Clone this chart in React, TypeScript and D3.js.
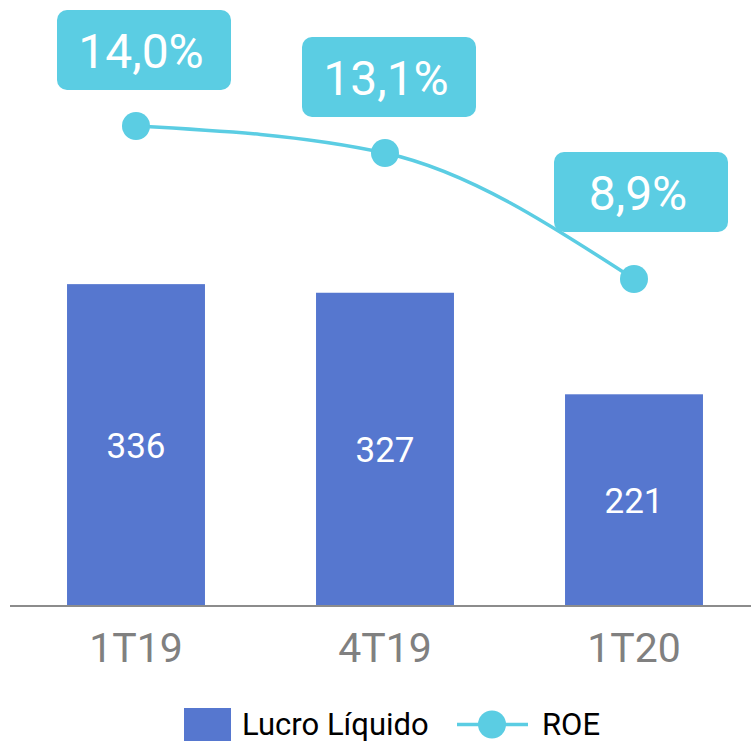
import React from "react";
import * as d3 from "d3";

const categories = ["1T19", "4T19", "1T20"];
const lucroLiquido = [336, 327, 221];
const roe = [14.0, 13.1, 8.9];
const roeLabels = ["14,0%", "13,1%", "8,9%"];
const seriesNames = ["Lucro Líquido", "ROE"];

const W = 751;
const H = 744;
const BAR = "#5677CF";
const CYAN = "#5BCDE3";
const FONT = "Roboto, 'Noto Sans', sans-serif";

// label box offsets relative to the point (style)
const labelOffsets = [
  { dx: 8, dy: -36 },
  { dx: 4, dy: -36 },
  { dx: 7, dy: -47 },
];

export default function App() {
  const x = d3
    .scaleBand<string>()
    .domain(categories)
    .range([11.5, 758.5])
    .paddingInner(0.446)
    .paddingOuter(0.223);
  const yBar = d3.scaleLinear().domain([0, 632.6]).range([606, 0]);
  const yRoe = d3.scaleLinear().domain([0, 18.2]).range([546, 0]);

  const pts: [number, number][] = categories.map((c, i) => [
    (x(c) as number) + x.bandwidth() / 2,
    yRoe(roe[i]),
  ]);
  const line = d3.line().curve(d3.curveMonotoneX)(pts) as string;

  const boxW = 174;
  const boxH = 80;

  return (
    <div style={{ position: "absolute", left: 0, top: 0 }}>
      <svg width={W} height={H} style={{ display: "block", fontFamily: FONT }}>
        <rect width={W} height={H} fill="#fff" />
        {categories.map((c, i) => {
          const x0 = x(c) as number;
          const y0 = yBar(lucroLiquido[i]);
          return (
            <g key={c}>
              <rect x={x0} y={y0} width={x.bandwidth()} height={yBar(0) - y0} fill={BAR} />
              <text
                x={x0 + x.bandwidth() / 2}
                y={(y0 + yBar(0)) / 2 + 12.5}
                textAnchor="middle"
                fill="#fff"
                fontSize={35}
              >
                {lucroLiquido[i]}
              </text>
              <text
                x={x0 + x.bandwidth() / 2}
                y={662}
                textAnchor="middle"
                fill="#808080"
                fontSize={41}
              >
                {c}
              </text>
            </g>
          );
        })}
        <line x1={10} x2={W} y1={yBar(0)} y2={yBar(0)} stroke="#8c8c8c" strokeWidth={2} />
        <path d={line} fill="none" stroke={CYAN} strokeWidth={3.5} />
        {pts.map((p, i) => (
          <circle key={i} cx={p[0]} cy={p[1]} r={14} fill={CYAN} />
        ))}
        {pts.map((p, i) => {
          const cx = p[0] + labelOffsets[i].dx;
          const bottom = p[1] + labelOffsets[i].dy;
          return (
            <g key={"l" + i}>
              <rect x={cx - boxW / 2} y={bottom - boxH} width={boxW} height={boxH} rx={10} fill={CYAN} />
              <text x={cx - 3} y={bottom - boxH + 58} textAnchor="middle" fill="#fff" fontSize={48}>
                {roeLabels[i]}
              </text>
            </g>
          );
        })}
        {/* legend */}
        <rect x={184} y={708} width={47} height={33} fill={BAR} />
        <text x={242} y={735} fontSize={31} fill="#000">
          {seriesNames[0]}
        </text>
        <line x1={457} x2={528} y1={724.5} y2={724.5} stroke={CYAN} strokeWidth={3.5} />
        <circle cx={492} cy={724.5} r={14} fill={CYAN} />
        <text x={542} y={735} fontSize={31} fill="#000">
          {seriesNames[1]}
        </text>
      </svg>
    </div>
  );
}
